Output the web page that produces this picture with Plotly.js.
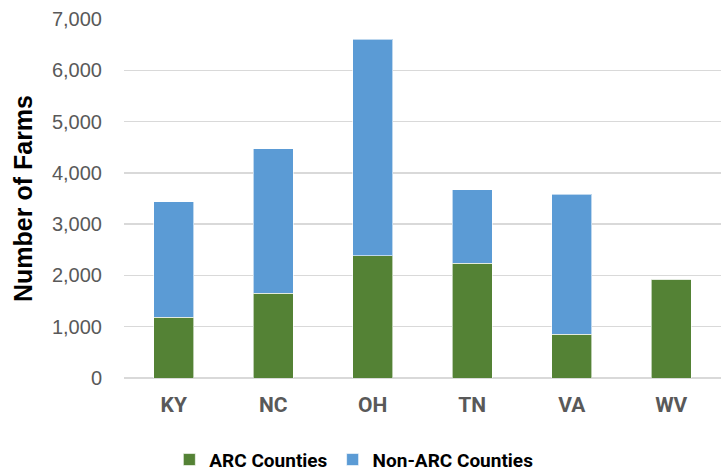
<!DOCTYPE html>
<html>
<head>
<meta charset="utf-8">
<script src="https://cdn.plot.ly/plotly-3.0.1.min.js"></script>
<style>html,body{margin:0;padding:0;background:#fff;}#chart{width:723px;height:471px;}</style>
</head>
<body>
<div id="chart"></div>
<script>
var states = ["KY", "NC", "OH", "TN", "VA", "WV"];
var arcCounties = [1180, 1650, 2380, 2240, 850, 1930];
var nonArcCounties = [2255, 2820, 4230, 1435, 2730, 0];
var yTickVals = [0, 1000, 2000, 3000, 4000, 5000, 6000, 7000];

var narrow = "Roboto, sans-serif";

var traces = [
  {
    type: "bar", name: "ARC Counties", x: states, y: arcCounties,
    marker: {color: "#548235", line: {color: "rgba(255,255,255,0.6)", width: 1}},
    hoverinfo: "none"
  },
  {
    type: "bar", name: "Non-ARC Counties", x: states, y: nonArcCounties,
    marker: {color: "#5B9BD5", line: {color: "rgba(255,255,255,0.6)", width: 1}},
    hoverinfo: "none"
  }
];

var layout = {
  width: 723, height: 471,
  margin: {l: 124, r: 2, t: 19, b: 93},
  barmode: "stack",
  bargap: 0.6,
  paper_bgcolor: "#fff", plot_bgcolor: "#fff",
  showlegend: true,
  legend: {
    orientation: "h", x: 0.385, xanchor: "center",
    yref: "container", y: 0.024, yanchor: "middle",
    font: {family: narrow, size: 19, color: "#000", weight: "bold"},
    itemwidth: 30, traceorder: "normal"
  },
  xaxis: {
    tickfont: {family: narrow, size: 21, color: "#595959", weight: "bold"},
    showgrid: false, showline: false, ticks: "", ticklabelstandoff: 12
  },
  yaxis: {
    range: [0, 7000], tickvals: yTickVals, tickformat: ",d",
    tickfont: {family: "Liberation Sans, Arial, sans-serif", size: 20, color: "#595959"},
    showgrid: true, gridcolor: "#d9d9d9", gridwidth: 1.5,
    zeroline: true, zerolinecolor: "#d9d9d9", zerolinewidth: 1.5,
    showline: false, ticks: "", ticklabelstandoff: 21,
    title: {text: "Number of Farms", font: {family: "Liberation Sans, Arial, sans-serif", size: 25, color: "#000", weight: "bold"}, standoff: 12}
  }
};

Plotly.newPlot("chart", traces, layout, {displayModeBar: false, staticPlot: true});
</script>
</body>
</html>
